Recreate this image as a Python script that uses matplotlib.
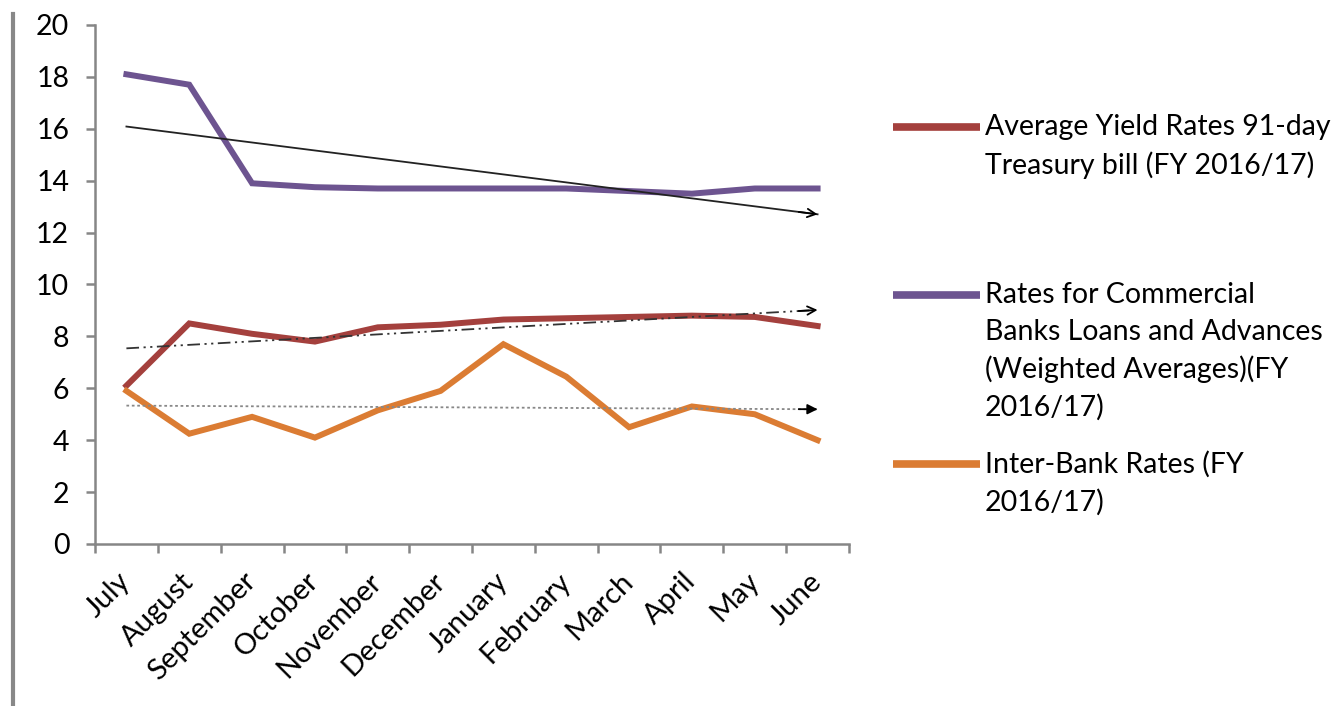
import numpy as np
import matplotlib
matplotlib.use("Agg")
import matplotlib.pyplot as plt
from matplotlib.lines import Line2D
from matplotlib.transforms import ScaledTranslation

plt.rcParams['font.family'] = ['Lato', 'DejaVu Sans']

months = ["July", "August", "September", "October", "November", "December",
          "January", "February", "March", "April", "May", "June"]
treasury = [6.1, 8.5, 8.1, 7.8, 8.35, 8.45, 8.65, 8.7, 8.75, 8.8, 8.75, 8.4]
commercial = [18.1, 17.7, 13.9, 13.75, 13.7, 13.7, 13.7, 13.7, 13.6, 13.5, 13.7, 13.7]
interbank = [5.9, 4.25, 4.9, 4.1, 5.15, 5.9, 7.7, 6.45, 4.5, 5.3, 5.0, 4.0]

labels = ["Average Yield Rates 91-day\nTreasury bill (FY 2016/17)",
          "Rates for Commercial\nBanks Loans and Advances\n(Weighted Averages)(FY\n2016/17)",
          "Inter-Bank Rates (FY\n2016/17)"]
colors = ["#A4403D", "#6D5490", "#DB7C33"]

W, H = 1342, 706
fig = plt.figure(figsize=(W / 100, H / 100), dpi=100)
ax = fig.add_axes([95 / W, 1 - 544 / H, (849 - 95) / W, (544 - 25) / H])

x = np.arange(len(months))
series = [treasury, commercial, interbank]
for ys, c in zip(series, colors):
    ax.plot(x, ys, color=c, lw=4.3, solid_joinstyle='miter', zorder=3)

# linear trend lines with arrow heads
trend_styles = [
    dict(ls=(0, (7, 2.5, 1.2, 2.5, 1.2, 2.5)), color="#333333", lw=1.3, head='->'),  # treasury
    dict(ls='-', color="#222222", lw=1.3, head='->'),                                # commercial
    dict(ls=(0, (1.5, 1.5)), color="#888888", lw=1.3, head='-|>'),                   # interbank
]
for ys, st in zip(series, trend_styles):
    k, b = np.polyfit(x, ys, 1)
    xt = np.array([x[0], x[-1]])
    ax.plot(xt, k * xt + b, ls=st['ls'], color=st['color'], lw=st['lw'], zorder=4)
    x0 = x[-1] - 0.3
    ax.annotate('', xy=(x[-1], k * x[-1] + b), xytext=(x0, k * x0 + b),
                arrowprops=dict(arrowstyle=st['head'] + ',head_length=0.6,head_width=0.3',
                                color='black', lw=1.3, shrinkA=0, shrinkB=0),
                zorder=5)

ax.set_xlim(-0.5, len(months) - 0.5)
ax.set_ylim(0, 20)
ax.set_yticks(np.arange(0, 21, 2))
ax.set_xticks(np.arange(-0.5, len(months), 1))
ax.set_xticklabels([])
ax.set_xticks(x, minor=True)
ax.set_xticklabels(months, minor=True, rotation=45, ha='right', va='center',
                   rotation_mode='anchor', fontsize=21)
shift = ScaledTranslation(5 / 100, 0, fig.dpi_scale_trans)
for lbl in ax.get_xticklabels(minor=True):
    lbl.set_transform(lbl.get_transform() + shift)
ax.tick_params(axis='x', which='minor', length=0, pad=24)
ax.tick_params(axis='x', which='major', length=6.5, width=1.8, color='#868686')
ax.tick_params(axis='y', length=6.5, width=1.8, color='#868686', labelsize=20.5, pad=12)

for side in ['top', 'right']:
    ax.spines[side].set_visible(False)
for side in ['left', 'bottom']:
    ax.spines[side].set_color('#868686')
    ax.spines[side].set_linewidth(1.8)

# left border line of the picture
fig.add_artist(Line2D([13 / W, 13 / W], [0, 1 - 14 / H], transform=fig.transFigure,
                      color='#888888', lw=3))

# legend drawn in figure coordinates
leg_y = [127, 295, 464]
for lab, c, yy in zip(labels, colors, leg_y):
    yf = 1 - yy / H
    fig.add_artist(Line2D([893 / W, 980 / W], [yf, yf], transform=fig.transFigure,
                          color=c, lw=5.5, solid_capstyle='butt'))
    fig.text(985 / W, 1 - (yy - 13) / H, lab, ha='left', va='top', fontsize=20.5,
             linespacing=1.5)

fig.savefig("out.png", dpi=100)
